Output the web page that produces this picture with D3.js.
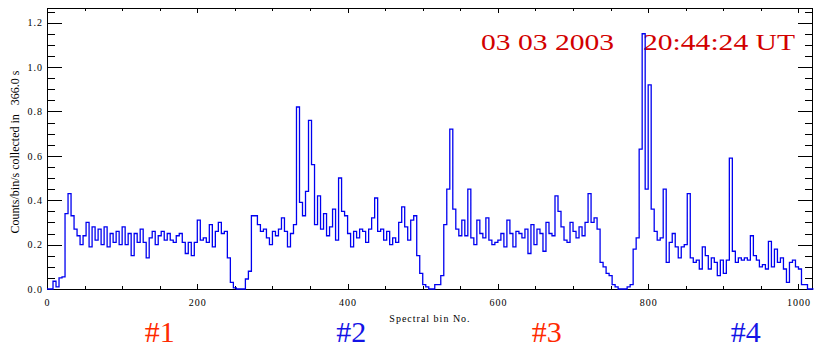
<!DOCTYPE html>
<html>
<head>
<meta charset="utf-8">
<script src="https://cdn.jsdelivr.net/npm/d3@7"></script>
<style>
  body { margin: 0; background: #fff; }
  svg { display: block; }
  .tick text { font-family: "Liberation Serif", serif; font-size: 10px; letter-spacing: 1px; fill: #000; }
  .tick line { stroke: #000; shape-rendering: crispEdges; }
</style>
</head>
<body>
<svg id="chart" width="826" height="350"></svg>
<script>
// counts per spectral bin (one value every 4 bins)
const binStep = 4
const counts = [
  0, 0, 0.035, 0.01, 0.05, 0.055, 0.34, 0.43, 0.33, 0.27,
  0.24, 0.20, 0.24, 0.30, 0.19, 0.28, 0.22, 0.27, 0.20, 0.28,
  0.19, 0.25, 0.21, 0.26, 0.20, 0.28, 0.20, 0.25, 0.15, 0.25,
  0.21, 0.27, 0.21, 0.14, 0.23, 0.26, 0.20, 0.24, 0.26, 0.22,
  0.25, 0.22, 0.21, 0.24, 0.25, 0.21, 0.16, 0.21, 0.15, 0.21,
  0.31, 0.22, 0.23, 0.21, 0.29, 0.19, 0.26, 0.30, 0.25, 0.26,
  0.14, 0.03, 0.005, 0,
  // second block
  0, 0, 0.045, 0.08, 0.33, 0.33, 0.29, 0.26, 0.27, 0.23,
  0.20, 0.26, 0.24, 0.27, 0.32, 0.26, 0.19, 0.25, 0.29, 0.82,
  0.39, 0.33, 0.44, 0.76, 0.56, 0.29, 0.42, 0.27, 0.34, 0.24,
  0.28, 0.36, 0.22, 0.50, 0.35, 0.33, 0.25, 0.19, 0.26, 0.23,
  0.27, 0.26, 0.21, 0.27, 0.32, 0.41, 0.26, 0.27, 0.22, 0.26,
  0.20, 0.23, 0.21, 0.30, 0.37, 0.28, 0.22, 0.31, 0.33, 0.15,
  0.07, 0.02, 0.01, 0,
  // third block
  0, 0.02, 0.02, 0.06, 0.29, 0.45, 0.72, 0.36, 0.27, 0.24,
  0.31, 0.24, 0.45, 0.23, 0.20, 0.31, 0.25, 0.23, 0.32, 0.22,
  0.20, 0.21, 0.22, 0.25, 0.19, 0.31, 0.25, 0.19, 0.26, 0.25,
  0.23, 0.27, 0.16, 0.29, 0.20, 0.27, 0.25, 0.17, 0.30, 0.25,
  0.24, 0.42, 0.35, 0.28, 0.22, 0.21, 0.30, 0.26, 0.23, 0.28,
  0.24, 0.30, 0.43, 0.30, 0.32, 0.27, 0.12, 0.10, 0.07, 0.06,
  0.02, 0.01, 0, 0,
  // fourth block
  0, 0.01, 0.02, 0.18, 0.23, 0.63, 1.15, 0.45, 0.92, 0.36,
  0.26, 0.22, 0.23, 0.45, 0.12, 0.21, 0.25, 0.19, 0.14, 0.19,
  0.20, 0.43, 0.14, 0.12, 0.13, 0.09, 0.19, 0.15, 0.09, 0.14,
  0.12, 0.06, 0.13, 0.07, 0.13, 0.59, 0.17, 0.12, 0.14, 0.13,
  0.14, 0.13, 0.24, 0.15, 0.13, 0.10, 0.11, 0.09, 0.215, 0.10,
  0.18, 0.12, 0.14, 0.09, 0.03, 0.12, 0.13, 0.10, 0.09, 0.02,
  0.02, 0, 0
]

const xMajor = [0, 200, 400, 600, 800, 1000]
const xMinor = d3.range(0, 1001, 50)
const yMajor = [0, 0.2, 0.4, 0.6, 0.8, 1.0, 1.2]
const yMinor = d3.range(0, 1.26, 0.05)

const dateText = '03 03 2003'
const timeText = '20:44:24 UT'
const yTitle = 'Counts/bin/s collected in   366.0 s'
const xTitle = 'Spectral bin No.'
const bands = ['#1', '#2', '#3', '#4']
const bandCenters = [150, 405, 665, 930] // spectral bin under each label
const bandColors = ['#ff2a00', '#1414e6', '#ff2a00', '#1414e6']

const plotL = 47, plotR = 812, plotT = 8, plotB = 289

const svg = d3.select('#chart')
const x = d3.scaleLinear().domain([0, 1018]).range([plotL, plotR])
const y = d3.scaleLinear().domain([0, 1.266]).range([plotB, plotT])

function addAxis(axis, tx, ty){
  const g = svg.append('g').attr('transform', `translate(${tx},${ty})`).call(axis)
  g.select('.domain').remove()
  return g
}

// y axes: inward ticks on both sides
addAxis(d3.axisLeft(y).tickValues(yMinor).tickSize(-8).tickFormat(''), plotL, 0)
addAxis(d3.axisLeft(y).tickValues(yMajor).tickSize(-15).tickPadding(4).tickFormat(d3.format('.1f')), plotL, 0)
addAxis(d3.axisRight(y).tickValues(yMinor).tickSize(-7).tickFormat(''), plotR, 0)
addAxis(d3.axisRight(y).tickValues(yMajor).tickSize(-14).tickFormat(''), plotR, 0)

// x axes
addAxis(d3.axisBottom(x).tickValues(xMinor).tickSize(-3).tickFormat(''), 0, plotB)
addAxis(d3.axisBottom(x).tickValues(xMajor).tickSize(-5).tickPadding(10).tickFormat(d3.format('d')), 0, plotB)
addAxis(d3.axisTop(x).tickValues(xMinor).tickSize(-3).tickFormat(''), 0, plotT)
addAxis(d3.axisTop(x).tickValues(xMajor).tickSize(-5).tickFormat(''), 0, plotT)

svg.append('rect')
  .attr('x', plotL + 0.5).attr('y', plotT + 0.5)
  .attr('width', plotR - plotL).attr('height', plotB - plotT)
  .attr('fill', 'none').attr('stroke', '#000').attr('stroke-width', 1)
  .attr('shape-rendering', 'crispEdges')

// date / time stamp
svg.append('text')
  .attr('x', 481).attr('y', 50)
  .attr('textLength', 133).attr('lengthAdjust', 'spacingAndGlyphs')
  .style('font', '24px "Liberation Serif", serif').style('fill', '#d20000')
  .text(dateText)
svg.append('text')
  .attr('x', 643).attr('y', 50)
  .attr('textLength', 152).attr('lengthAdjust', 'spacingAndGlyphs')
  .style('font', '24px "Liberation Serif", serif').style('fill', '#d20000')
  .text(timeText)

// spectrum as histogram steps
const pts = counts.map((c, i) => [i * binStep, c])
pts.push([counts.length * binStep, counts[counts.length - 1]])
const line = d3.line().x(d => x(d[0])).y(d => y(d[1])).curve(d3.curveStepAfter)
svg.append('path')
  .attr('d', line(pts))
  .attr('fill', 'none')
  .attr('stroke', '#0000f0')
  .attr('stroke-width', 1.3)

// titles
svg.append('text')
  .attr('transform', `translate(19,152) rotate(-90)`)
  .attr('text-anchor', 'middle')
  .attr('xml:space', 'preserve')
  .style('white-space', 'pre')
  .style('font', '12px "Liberation Serif", serif')
  .text(yTitle)

svg.append('text')
  .attr('x', 430).attr('y', 322)
  .attr('text-anchor', 'middle')
  .style('font', '10px "Liberation Serif", serif')
  .style('letter-spacing', '1px')
  .text(xTitle)

svg.append('g').selectAll('text')
  .data(bands)
  .enter().append('text')
  .attr('x', (d, i) => x(bandCenters[i]))
  .attr('y', 342)
  .attr('text-anchor', 'middle')
  .style('font', '30px "Liberation Serif", serif')
  .style('fill', (d, i) => bandColors[i])
  .text(d => d)
</script>
</body>
</html>
